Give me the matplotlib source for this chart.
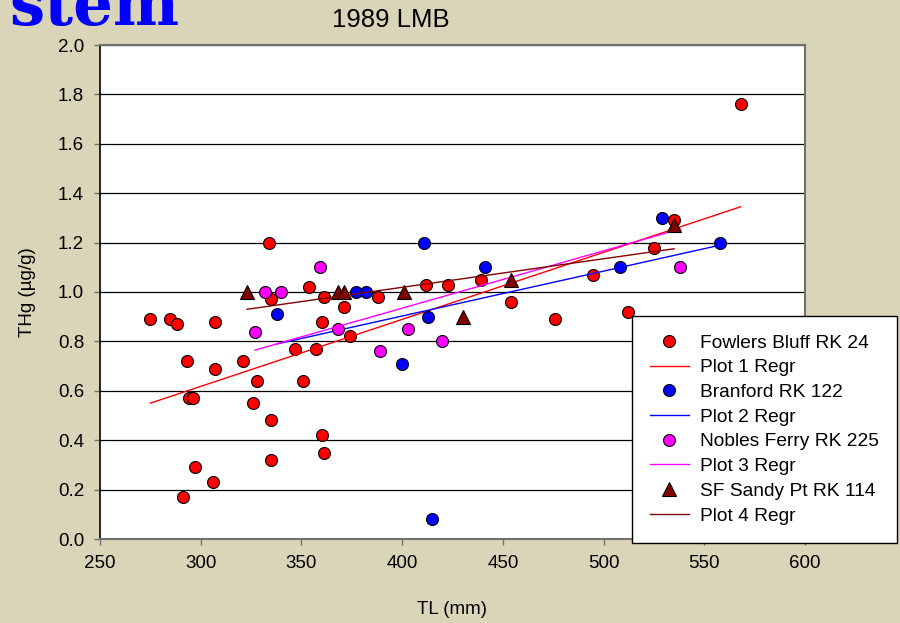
import matplotlib
matplotlib.use("Agg")
import matplotlib.pyplot as plt

# ---------------- data ----------------
fowlers_x = [275, 285, 288, 307, 291, 293, 294, 296, 297, 306, 307, 321, 326, 328,
             334, 335, 335, 335, 347, 351, 354, 357, 360, 360, 361, 361, 371, 374,
             388, 412, 423, 439, 454, 476, 495, 512, 525, 535, 568]
fowlers_y = [0.89, 0.89, 0.87, 0.88, 0.17, 0.72, 0.57, 0.57, 0.29, 0.23, 0.69, 0.72, 0.55, 0.64,
             1.20, 0.97, 0.48, 0.32, 0.77, 0.64, 1.02, 0.77, 0.88, 0.42, 0.98, 0.35, 0.94, 0.82,
             0.98, 1.03, 1.03, 1.05, 0.96, 0.89, 1.07, 0.92, 1.18, 1.29, 1.76]

branford_x = [338, 377, 382, 400, 411, 413, 415, 441, 508, 529, 558]
branford_y = [0.91, 1.00, 1.00, 0.71, 1.20, 0.90, 0.08, 1.10, 1.10, 1.30, 1.20]

nobles_x = [327, 332, 340, 359, 368, 389, 403, 420, 538]
nobles_y = [0.84, 1.00, 1.00, 1.10, 0.85, 0.76, 0.85, 0.80, 1.10]

sandy_x = [323, 368, 371, 401, 430, 454, 535]
sandy_y = [1.00, 1.00, 1.00, 1.00, 0.90, 1.05, 1.27]

# regression lines (end points)
reg1_x, reg1_y = [275, 568], [0.55, 1.345]
reg2_x, reg2_y = [338, 558], [0.79, 1.19]
reg3_x, reg3_y = [327, 538], [0.765, 1.255]
reg4_x, reg4_y = [323, 535], [0.93, 1.175]

x_ticks = [250, 300, 350, 400, 450, 500, 550, 600]
y_ticks = [0.0, 0.2, 0.4, 0.6, 0.8, 1.0, 1.2, 1.4, 1.6, 1.8, 2.0]
y_tick_labels = ["0.0", "0.2", "0.4", "0.6", "0.8", "1.0", "1.2", "1.4", "1.6", "1.8", "2.0"]

labels = ["Fowlers Bluff RK 24", "Plot 1 Regr", "Branford RK 122", "Plot 2 Regr",
          "Nobles Ferry RK 225", "Plot 3 Regr", "SF Sandy Pt RK 114", "Plot 4 Regr"]

# ---------------- style ----------------
plt.rcParams['font.family'] = ['Liberation Sans', 'DejaVu Sans']
BG = '#DAD4B8'
RED, BLUE, MAG, DRED = '#FF0000', '#0000FF', '#FF00FF', '#800000'

fig = plt.figure(figsize=(9, 6.23), dpi=100, facecolor=BG)
ax = fig.add_axes([100/900, 1-539/623, 705/900, 494/623])
ax.set_facecolor('white')

ms = 8.6
mew = 0.8
h = []
h.append(ax.plot(fowlers_x, fowlers_y, 'o', color=RED, mec='black', ms=ms, mew=mew, zorder=3)[0])
h.append(ax.plot(reg1_x, reg1_y, '-', color=RED, lw=1.0, zorder=4)[0])
h.append(ax.plot(branford_x, branford_y, 'o', color=BLUE, mec='black', ms=ms, mew=mew, zorder=5)[0])
h.append(ax.plot(reg2_x, reg2_y, '-', color=BLUE, lw=1.0, zorder=6)[0])
h.append(ax.plot(nobles_x, nobles_y, 'o', color=MAG, mec='black', ms=ms, mew=mew, zorder=7)[0])
h.append(ax.plot(reg3_x, reg3_y, '-', color=MAG, lw=1.0, zorder=8)[0])
h.append(ax.plot(sandy_x, sandy_y, '^', color=DRED, mec='black', ms=9.5, mew=mew, zorder=9)[0])
h.append(ax.plot(reg4_x, reg4_y, '-', color=DRED, lw=1.0, zorder=10)[0])

ax.set_xlim(250, 600)
ax.set_ylim(0, 2.0)
ax.set_xticks(x_ticks)
ax.set_yticks(y_ticks)
ax.set_yticklabels(y_tick_labels)
ax.yaxis.grid(True, color='black', lw=0.9)
ax.set_axisbelow(True)

for s in ['top', 'right', 'bottom']:
    ax.spines[s].set_color('#707070')
    ax.spines[s].set_linewidth(1.5)
ax.spines['left'].set_color('black')
ax.spines['left'].set_linewidth(1.2)
ax.tick_params(axis='both', direction='out', length=4.5, width=1.0, color='#707070',
               labelsize=13.5, pad=7, labelcolor='black')

ax.set_xlabel('TL (mm)', fontsize=13.5, labelpad=21)
ax.set_ylabel('THg (µg/g)', fontsize=13.5, labelpad=16)

fig.text(391/900, 1-27/623, '1989 LMB', ha='center', va='baseline', fontsize=18.5)
fig.text(9/900, 1-25/623, 'stem', ha='left', va='baseline', fontsize=45,
         family='DejaVu Serif', weight='bold', color='#0000FF')

leg = fig.legend(h, labels, loc='upper left', bbox_to_anchor=(632/900, 1-316/623),
                 borderaxespad=0, fontsize=13.8, frameon=True, fancybox=False,
                 edgecolor='black', facecolor='white', framealpha=1,
                 handlelength=2.0, handletextpad=0.6, labelspacing=0.38,
                 borderpad=0.95, numpoints=1)
leg.get_frame().set_linewidth(1.0)

fig.savefig('out.png', dpi=100, facecolor=BG)
